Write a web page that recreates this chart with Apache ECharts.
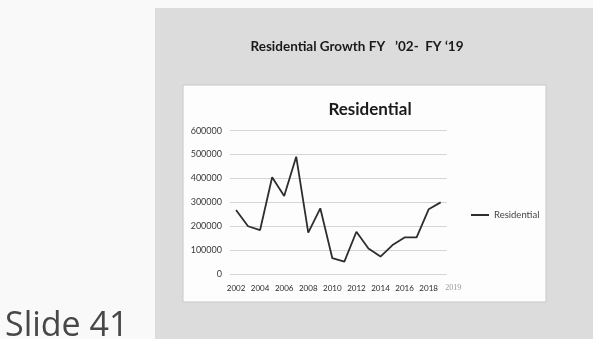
<!DOCTYPE html>
<html>
<head>
<meta charset="utf-8">
<script src="https://cdn.jsdelivr.net/npm/echarts@6/dist/echarts.min.js"></script>
<style>
html,body{margin:0;padding:0;background:#f9f9f9;}
#chart{width:593px;height:339px;}
</style>
</head>
<body>
<div id="chart"></div>
<script>
const years = ['2002','2003','2004','2005','2006','2007','2008','2009','2010','2011','2012','2013','2014','2015','2016','2017','2018','2019'];
const residential = [268000,200000,184000,405000,327000,491000,173000,275000,66000,52000,177000,107000,73000,121000,153000,153000,271000,300000];
const yTicks = [0,100000,200000,300000,400000,500000,600000];
const slideTitle = 'Residential Growth FY   \u201902-  FY \u201819';
const chartTitle = 'Residential';
const seriesName = 'Residential';
const slideLabel = 'Slide 41';

const chart = echarts.init(document.getElementById('chart'));
chart.setOption({
  animation: false,
  backgroundColor: '#f9f9f9',
  graphic: [
    {type:'rect', z:-20, shape:{x:155,y:8,width:438,height:331}, style:{fill:'#dcdcdc'}},
    {type:'rect', z:-19, shape:{x:183,y:85,width:363,height:217}, style:{fill:'#fdfdfd', stroke:'#c8c8c8', lineWidth:1}},
    {type:'text', z:5, left:5, top:309, style:{text:slideLabel, fontFamily:'Open Sans', fontSize:34, fill:'#474747'}}
  ],
  title: [
    {text: slideTitle, left: 352, top: 35, textAlign:'center',
     textStyle:{fontFamily:'Lato', fontWeight:'bold', fontSize:13.5, color:'#1a1a1a'}},
    {text: chartTitle, left: 365, top: 96, textAlign:'center',
     textStyle:{fontFamily:'Lato', fontWeight:'bold', fontSize:17, color:'#1a1a1a'}}
  ],
  legend: {
    data:[{name: seriesName, icon:'rect'}], left:466, top:205, itemWidth:18, itemHeight:2,
    textStyle:{fontFamily:'Lato', fontSize:9.5, color:'#444'}
  },
  grid: {left:230, top:130.7, width:216.7, bottom:65, containLabel:false},
  xAxis: {
    type:'category', data: years, boundaryGap:true,
    axisLine:{show:false}, axisTick:{show:false},
    axisLabel:{
      interval: function(i){ return i % 2 === 0 || i === years.length - 1; },
      margin:10, fontFamily:'Lato', fontSize:8, color:'#2a2a2a',
      formatter: function(v){ return v === years[years.length-1] ? '{late|' + v + '}' : v; },
      rich:{ late:{fontFamily:'Liberation Serif', fontSize:8, color:'#9a9a9a', padding:[0,0,0,25]} }
    }
  },
  yAxis: {
    type:'value', min:yTicks[0], max:yTicks[yTicks.length-1], interval:yTicks[1]-yTicks[0],
    axisLine:{show:false}, axisTick:{show:false},
    axisLabel:{margin:8, fontFamily:'Lato', fontSize:9, color:'#3a3a3a', formatter: function(v){ return String(v); }},
    splitLine:{lineStyle:{color:'#d4d4d4', width:1}}
  },
  series: [{
    name: seriesName, type:'line', data: residential, symbol:'none',
    lineStyle:{color:'#2e2e2e', width:1.8}, itemStyle:{color:'#2e2e2e'}
  }]
});
</script>
</body>
</html>
